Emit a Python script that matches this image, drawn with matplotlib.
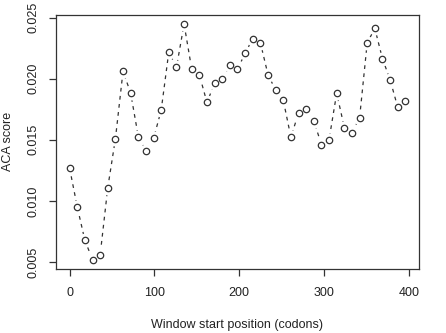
import numpy as np
import matplotlib.pyplot as plt

plt.rcParams['font.family'] = ['Liberation Sans', 'DejaVu Sans']

# window start positions (codons) and ACA scores
positions = list(range(0, 397, 9))
aca_score = [0.01267, 0.00951, 0.00677, 0.00519, 0.00557, 0.01109, 0.01508, 0.02062,
             0.01882, 0.01527, 0.01412, 0.01511, 0.01743, 0.02221, 0.02093, 0.02448,
             0.02079, 0.02033, 0.01806, 0.01964, 0.01997, 0.02111, 0.02077, 0.02210,
             0.02328, 0.02295, 0.02033, 0.01907, 0.01825, 0.01521, 0.01721, 0.01751,
             0.01656, 0.01461, 0.01502, 0.01882, 0.01601, 0.01560, 0.01680, 0.02295,
             0.02412, 0.02164, 0.01992, 0.01767, 0.01822]
x_ticks = [0, 100, 200, 300, 400]
y_ticks = [0.005, 0.010, 0.015, 0.020, 0.025]

fig = plt.figure(figsize=(4.46, 3.33), dpi=100)
ax = fig.add_axes([0.126, 0.192, 0.813, 0.764])

col = '#333333'
# R type="b": dashed line with gaps around the points
ax.plot(positions, aca_score, color=col, linestyle=(0, (3, 3.5)), linewidth=0.9)
ax.plot(positions, aca_score, linestyle='none', marker='o', markersize=9,
        markerfacecolor='white', markeredgecolor='white')
ax.plot(positions, aca_score, linestyle='none', marker='o', markersize=4.6,
        markerfacecolor='white', markeredgecolor=col, markeredgewidth=0.9)

ax.set_xlim(-15.84, 411.84)
ax.set_ylim(0.00442, 0.02525)
ax.set_xticks(x_ticks)
ax.set_xticklabels([str(v) for v in x_ticks])
ax.set_yticks(y_ticks)
ax.set_yticklabels(['%.3f' % v for v in y_ticks], rotation=90, va='center')

for s in ax.spines.values():
    s.set_color(col)
    s.set_linewidth(0.9)
ax.tick_params(direction='out', length=5, width=0.9, color=col,
               labelsize=9, labelcolor='#222222')
ax.tick_params(axis='x', pad=8)
ax.tick_params(axis='y', pad=7)

ax.set_xlabel('Window start position (codons)', fontsize=9, color='#222222', labelpad=14)
ax.set_ylabel('ACA score', fontsize=9, color='#222222', labelpad=10)

fig.savefig('out.png', dpi=100)
